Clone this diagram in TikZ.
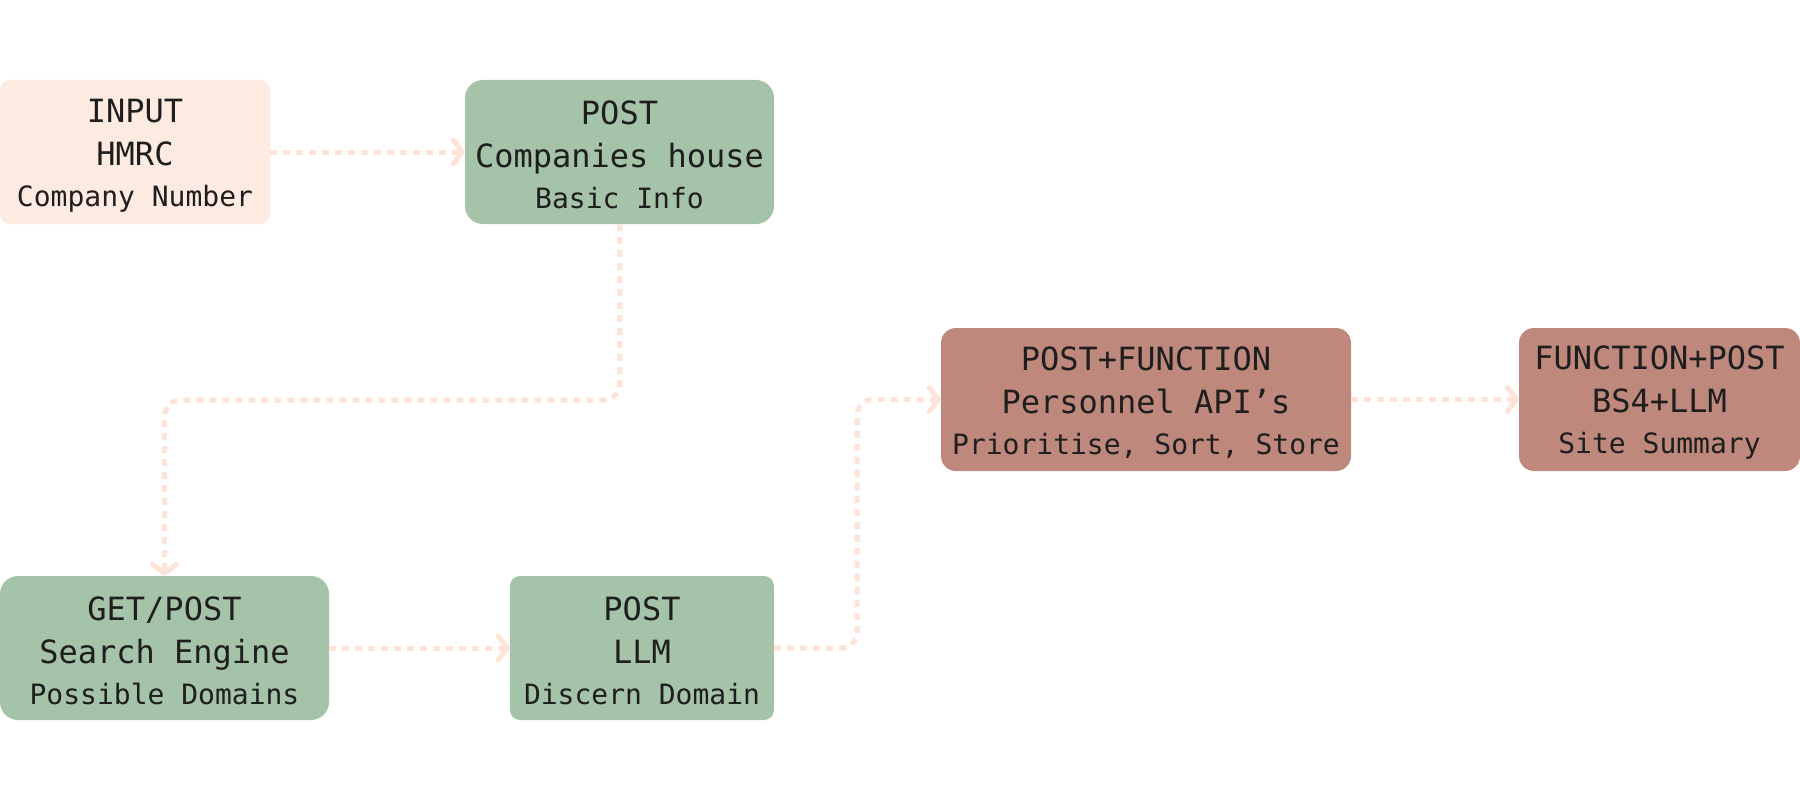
\documentclass[tikz,border=0pt]{standalone}
\usepackage{fontspec}
\setmainfont{DejaVu Sans Mono}
\usetikzlibrary{arrows.meta}
\definecolor{peach}{HTML}{FDEBE2}
\definecolor{sage}{HTML}{A5C3A9}
\definecolor{clay}{HTML}{BE887D}
\definecolor{arrowc}{HTML}{FDE3D8}
\definecolor{ink}{HTML}{1E1E1E}
\newcommand{\topstrut}{\rule{0pt}{30pt}}
\tikzset{
  box/.style={inner sep=0pt, align=center, text=ink, minimum height=144pt,
    font=\fontsize{32}{43}\selectfont},
  inbox/.style={box, fill=peach, rounded corners=10pt},
  greenbox/.style={box, fill=sage, rounded corners=18pt},
  redbox/.style={box, fill=clay, rounded corners=15pt},
  conn/.style={draw=arrowc, line width=5pt, dash pattern=on 7pt off 6pt,
    rounded corners=16pt,
    -{Straight Barb[length=9pt,width=24pt,line cap=round,line join=round]}},
}
\begin{document}
\begin{tikzpicture}[x=1pt,y=-1pt]
\useasboundingbox[fill=white] (0,0) rectangle (1800,800);
\node[inbox, minimum width=270pt] (in) at (135,152)
  {\topstrut INPUT\\HMRC\\[-2pt]{\fontsize{28}{41}\selectfont Company Number}};
\node[greenbox, minimum width=309pt] (ch) at (619.5,152)
  {\topstrut POST\\Companies house\\[-2pt]{\fontsize{28}{41}\selectfont Basic Info}};
\node[greenbox, minimum width=329pt] (se) at (164.5,648)
  {\topstrut GET/POST\\Search Engine\\[-2pt]{\fontsize{28}{41}\selectfont Possible Domains}};
\node[greenbox, minimum width=264pt, rounded corners=10pt] (llm) at (642,648)
  {\topstrut POST\\LLM\\[-2pt]{\fontsize{28}{41}\selectfont Discern Domain}};
\node[redbox, minimum width=410pt, minimum height=143pt] (pf) at (1146,399.5)
  {\topstrut POST+FUNCTION\\Personnel API’s\\[-2pt]{\fontsize{28}{41}\selectfont Prioritise, Sort, Store}};
\node[redbox, minimum width=281pt, minimum height=143pt] (fp) at (1659.5,399.5)
  {\topstrut FUNCTION+POST\\BS4+LLM\\[-2pt]{\fontsize{28}{41}\selectfont Site Summary}};
\coordinate (mid1) at (0,400);
\coordinate (mid2) at (857,0);
\draw[conn] (in) -- (ch);
\draw[conn] (ch.south) -- (ch.south |- mid1) -- (se.north |- mid1) -- (se.north);
\draw[conn] (se) -- (llm);
\draw[conn] (llm.east) -- (mid2 |- llm.east) -- (mid2 |- pf.west) -- (pf.west);
\draw[conn] (pf) -- (fp);
\end{tikzpicture}
\end{document}
